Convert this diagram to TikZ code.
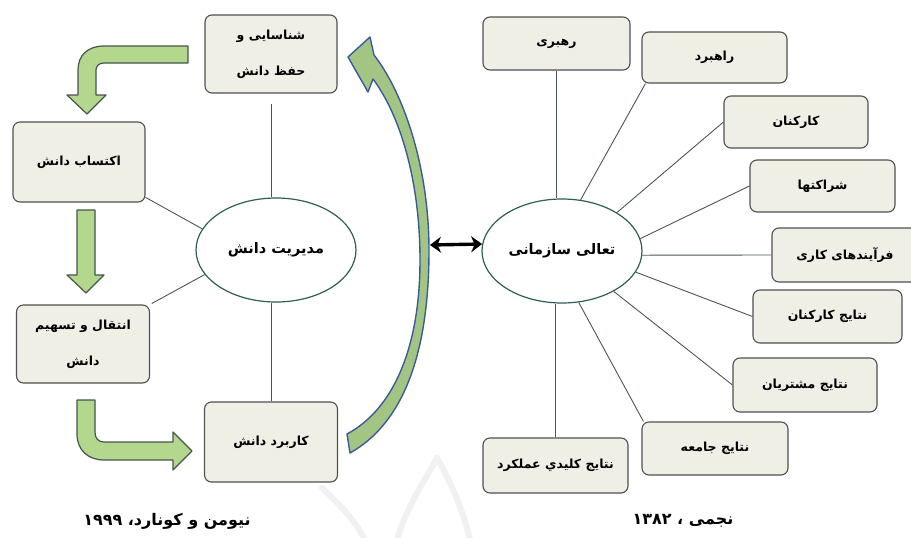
\documentclass[tikz,border=0pt]{standalone}
\usepackage{fontspec}
\usetikzlibrary{arrows.meta,shapes.geometric,calc}
\newfontfamily\fa[Script=Arabic]{DejaVu Sans}
\TeXXeTstate=1
\newcommand\rtl[1]{\beginR#1\endR}
\definecolor{boxfill}{HTML}{EFEFE6}
\definecolor{boxline}{HTML}{505050}
\definecolor{ellline}{HTML}{2F5E55}
\definecolor{linkline}{HTML}{4B5753}
\definecolor{arrfill}{HTML}{B3D78C}
\definecolor{arrline}{HTML}{46544E}
\definecolor{curvfill}{HTML}{A3C584}
\definecolor{curvline}{HTML}{3A5A98}
\definecolor{wmark}{HTML}{F1F1F1}

\begin{document}
\begin{tikzpicture}[x=1pt,y=-1pt,
  box/.style={draw=boxline, fill=boxfill, rounded corners=7pt, line width=1.1pt,
    inner sep=1pt, align=center, font=\fa\bfseries\fontsize{12.5}{36}\selectfont},
  rbox/.style={box, minimum width=145pt, minimum height=53pt},
  hub/.style={ellipse, draw=ellline, fill=white, line width=1.2pt,
    minimum width=160pt, minimum height=104pt, inner sep=0pt,
    font=\fa\bfseries\fontsize{14.5}{16}\selectfont},
  link/.style={draw=linkline, line width=0.9pt},
  blockarrow/.style={fill=arrfill, draw=arrline, line width=1.2pt, line join=round},
  curvarrow/.style={fill=curvfill, draw=curvline, line width=1.4pt, line join=round},
  caption/.style={font=\fa\bfseries\fontsize{16}{18}\selectfont},
]
\useasboundingbox (0,0) rectangle (911,538);

% faint background emblem
\begin{scope}[wmark, line width=6pt, line cap=round]
  \draw (322,488) .. controls (340,505) and (355,520) .. (365,540);
  \draw (437,458) .. controls (425,480) and (405,510) .. (397,540);
  \draw (437,458) .. controls (450,480) and (463,510) .. (470,540);
\end{scope}

% knowledge management cycle
\node[box, minimum width=132pt, minimum height=78pt] (shen) at (271,54) {\rtl{شناسایی و}\\\rtl{حفظ دانش}};
\node[box, minimum width=132pt, minimum height=80pt] (ekt) at (79,162) {\rtl{اکتساب دانش}};
\node[box, minimum width=133pt, minimum height=78pt] (ent) at (83,344) {\rtl{انتقال و تسهیم}\\\rtl{دانش}};
\node[box, minimum width=133pt, minimum height=80pt] (kar) at (271,442) {\rtl{کاربرد دانش}};
\node[hub] (km) at (276,250) {\rtl{مدیریت دانش}};

% organisational excellence model
\node[hub] (oe) at (562,251) {\rtl{تعالی سازمانی}};
\node[rbox, minimum width=147pt] (rb) at (556.5,43.5) {\rtl{رهبری}};
\node[rbox, minimum height=51pt] (rbd) at (714.5,57.5) {\rtl{راهبرد}};
\node[rbox, minimum width=144pt, minimum height=52pt] (kk) at (796,122) {\rtl{کارکنان}};
\node[rbox, minimum height=52pt] (sh) at (822.5,186) {\rtl{شراکتها}};
\node[rbox, minimum width=146pt, minimum height=54pt] (fr) at (845,255) {\rtl{فرآیندهای کاری}};
\node[rbox, minimum width=149pt] (nk) at (827.5,316.5) {\rtl{نتایج کارکنان}};
\node[rbox, minimum width=144pt, minimum height=54pt] (nm) at (805,385) {\rtl{نتایج مشتریان}};
\node[rbox, minimum width=146pt] (nj) at (715,448.5) {\rtl{نتایج جامعه}};
\node[rbox, minimum height=55pt] (kl) at (555.5,465.5) {\rtl{نتایج کلیدي عملکرد}};

% sources
\node[caption] (srcl) at (167,521) {\rtl{نیومن و کونارد، ۱۹۹۹}};
\node[caption] (srcr) at (683,521) {\rtl{نجمی ، ۱۳۸۲}};

% spokes of the knowledge management hub
\draw[link] ([yshift=-10pt]shen.south) -- (shen.south |- km.north);
\draw[link] (ekt.-28) -- (km.164);
\draw[link, shorten <=2pt] (ent.north east) -- (km.-161);
\draw[link] (kar.north) -- (kar.north |- km.south);

% spokes of the excellence hub
\draw[link] (rb.south) -- (rb.south |- oe.north);
\draw[link] ([xshift=4pt]rbd.south west) -- (oe.70.6);
\draw[link] (kk.west) -- (oe.35);
\draw[link] (sh.west) -- (oe.9);
\draw[link] (fr.west) -- (oe.-3);
\draw[link] (nk.west) -- (oe.-16.5);
\draw[link] (nm.west) -- (oe.-38.7);
\draw[link] ([xshift=2pt]nj.north west) -- (oe.-72.5);
\draw[link] (kl.north) -- (kl.north |- oe.south);

% cycle arrows
\draw[blockarrow] (188,46) -- (104,46) .. controls (88,46) and (78,55) .. (78,70)
  -- (78,95) -- (67,95) -- (87,114) -- (106,95) -- (96,95) -- (96,70)
  .. controls (96,66) and (99,63) .. (104,63) -- (188,63) -- cycle;
\draw[blockarrow] (77,210) -- (95,210) -- (95,275) -- (104,275) -- (86,293)
  -- (67,275) -- (77,275) -- cycle;
\draw[blockarrow] (77,400) -- (95,400) -- (95,432) .. controls (95,438) and (98,442) .. (104,442)
  -- (173,442) -- (173,432) -- (192,451) -- (173,470) -- (173,460) -- (104,460)
  .. controls (88,460) and (77,450) .. (77,434) -- cycle;
\draw[curvarrow] (348,57) -- (370,37) -- (374,55)
  .. controls (405,95) and (429,170) .. (429,250)
  .. controls (429,360) and (400,425) .. (350,453) -- (347,434)
  .. controls (392,410) and (420,350) .. (420,260)
  .. controls (420,185) and (402,118) .. (373,79) -- (368,92) -- cycle;

% link between the two models
\coordinate (dl) at (430,245);
\draw[line width=3.4pt, {Stealth[length=11pt,width=16pt]}-{Stealth[length=11pt,width=16pt]}] (dl) -- (oe.175);
\end{tikzpicture}
\end{document}
